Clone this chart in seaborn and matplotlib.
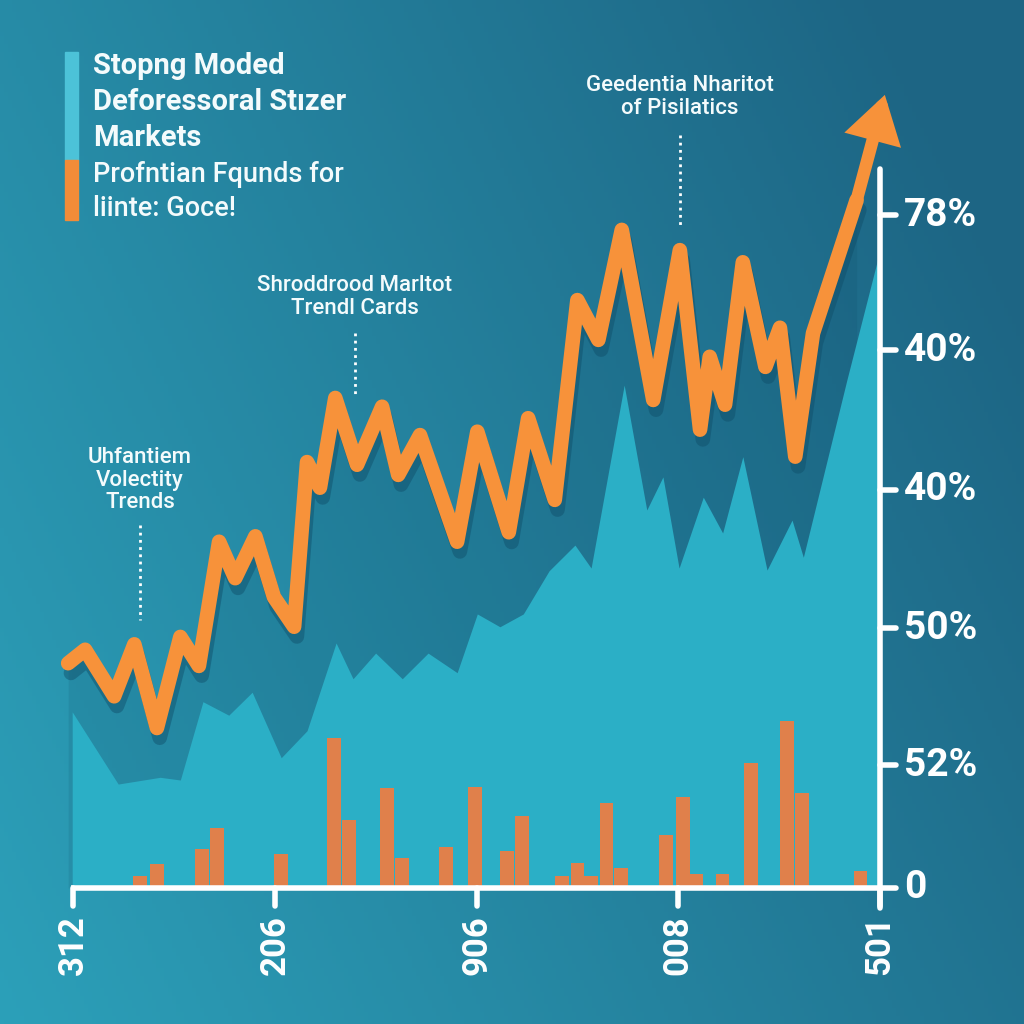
import numpy as np
import matplotlib
matplotlib.use("Agg")
import matplotlib.pyplot as plt
import matplotlib.patheffects as pe
import seaborn as sns

# orange trend line (last point = arrow tip)
line_x = [-0.6, 1.5, 5.1, 7.6, 10.4, 13.3, 15.6, 18.1, 20.1, 22.6, 24.9, 27.4, 29.0, 30.6,
          32.5, 35.2, 38.3, 40.3, 43.0, 47.6, 50.1, 54.0, 56.4, 59.7, 62.5, 65.1, 68.0, 71.9,
          75.2, 77.7, 78.9, 80.8, 83.0, 85.8, 87.6, 89.5, 91.7, 97.1, 100.6]
line_y = [33.3, 35.3, 28.4, 36.1, 23.7, 37.2, 32.9, 51.3, 45.9, 52.1, 43.1, 38.7, 63.1, 59.3,
          72.6, 62.7, 71.3, 61.2, 67.1, 51.3, 67.6, 52.7, 69.6, 57.5, 87.1, 81.2, 97.5, 72.3,
          94.5, 67.9, 78.7, 71.6, 92.7, 77.2, 83.0, 63.9, 82.2, 101.9, 117.5]

# light teal area
area_x = [-0.1, 5.6, 10.8, 13.3, 16.1, 19.3, 22.2, 25.8, 29.0, 32.6, 34.7, 37.5, 40.8, 44.0,
          47.6, 50.1, 52.9, 55.8, 59.0, 62.2, 64.2, 68.3, 71.1, 73.1, 75.1, 78.1, 80.5, 83.0,
          86.0, 89.1, 90.5, 95.9, 100.0]
area_y = [26.1, 15.4, 16.4, 16.0, 27.6, 25.6, 29.0, 19.3, 23.3, 36.3, 31.0, 34.8, 31.0, 34.8,
          31.9, 40.6, 38.7, 40.6, 47.0, 50.8, 47.4, 74.5, 56.0, 60.9, 47.4, 57.9, 52.6, 63.9,
          47.1, 54.5, 49.0, 75.3, 94.5]

# bars along the bottom
bar_x = [8.3, 10.4, 16.0, 17.8, 25.8, 32.3, 34.2, 38.9, 40.8, 46.2, 49.8, 53.8, 55.6,
         60.6, 62.5, 64.2, 66.1, 67.9, 73.5, 75.6, 77.2, 80.5, 84.0, 88.5, 90.3, 97.6]
bar_h = [1.8, 3.6, 5.8, 8.9, 5.0, 22.2, 10.1, 14.8, 4.4, 6.1, 15.0, 5.5, 10.7,
         1.8, 3.7, 1.8, 12.6, 3.0, 7.9, 13.5, 2.1, 2.1, 18.5, 24.7, 14.1, 2.5]

# axes ticks and labels
xtick_pos = [0, 25, 50, 75, 100]
xtick_labels = ["312", "206", "906", "008", "501"]
ytick_pos = [0, 18.2, 38.5, 59.0, 79.7, 99.7]
ytick_labels = ["0", "52%", "50%", "40%", "40%", "78%"]

title_lines = ["Stopng Moded", "Deforessoral Stızer", "Markets"]
sub_lines = ["Profntian Fqunds for", "liinte: Goce!"]

# annotation text, x, text y, dotted line top, dotted line bottom
notes = [
    ("Geedentia Nharitot\nof Pisilatics", 75.2, 117.2, 111.6, 97.8),
    ("Shroddrood Marltot\nTrendl Cards", 34.9, 87.6, 82.2, 73.0),
    ("Uhfantiem\nVolectity\nTrends", 8.3, 60.4, 53.8, 39.7),
]

ORANGE = "#f7923a"
BAR = "#e0804b"
LIGHT = "#2bafc6"

sns.set_theme(style="white")
plt.rcParams["font.family"] = ["Roboto", "DejaVu Sans"]

fig = plt.figure(figsize=(10.24, 10.24), dpi=100)
ax = fig.add_axes([0, 0, 1, 1])
xlim = (-73 / 8.07, (1024 - 73) / 8.07)
ylim = (-(1024 - 888) / 6.75, 888 / 6.75)
ax.set_xlim(*xlim)
ax.set_ylim(*ylim)
ax.axis("off")

# background gradient
u = np.linspace(0, 1, 256)
uu, vv = np.meshgrid(u, u)
t = np.clip(0.75 * uu + 0.35 * vv, 0, 1)[..., None]
c0 = np.array(matplotlib.colors.to_rgb("#2ca0b9"))
c1 = np.array(matplotlib.colors.to_rgb("#1d6584"))
grad = c0 * (1 - t) + c1 * t
ax.imshow(grad, extent=(*xlim, *ylim), aspect="auto", zorder=0, origin="lower")

# darker band under the orange line
ax.fill_between(line_x[:-1], line_y[:-1], 0, color="#0c4560", alpha=0.13, lw=0, zorder=1)
# light area
ax.fill_between(area_x, area_y, 0, color=LIGHT, lw=0, zorder=2)

# bars
ax.bar(bar_x, bar_h, width=1.7, color=BAR, zorder=3, lw=0)

# orange line
sns.lineplot(x=line_x[:-1], y=line_y[:-1], sort=False, estimator=None, ax=ax,
             color=ORANGE, lw=10.5, zorder=5,
             solid_joinstyle="round", solid_capstyle="round",
             path_effects=[pe.SimpleLineShadow(offset=(2, -7), shadow_color="#0f4d68", alpha=0.45),
                           pe.Normal()])
ax.annotate("", xy=(line_x[-1], line_y[-1]), xytext=(line_x[-2], line_y[-2]),
            arrowprops=dict(arrowstyle="-|>,head_length=0.8,head_width=0.5",
                            lw=9, color=ORANGE, mutation_scale=26,
                            shrinkA=0, shrinkB=0, joinstyle="miter"),
            zorder=6)

# white axes
ax.plot([xtick_pos[0] - 0.2, xtick_pos[-1] + 0.3], [0, 0], color="white", lw=4,
        solid_capstyle="butt", zorder=7)
ax.plot([100, 100], [-3.0, 106.5], color="white", lw=4, solid_capstyle="round", zorder=7)
for xp, lab in zip(xtick_pos, xtick_labels):
    ax.plot([xp, xp], [0, -2.7], color="white", lw=4, zorder=7)
    ax.text(xp, -4.0, lab, rotation=90, ha="center", va="top", color="white",
            fontsize=25, fontweight="bold", zorder=8)
for yp, lab in zip(ytick_pos, ytick_labels):
    ax.plot([100, 102.0], [yp, yp], color="white", lw=4, zorder=7)
    ax.text(103.0, yp, lab, ha="left", va="center", color="white",
            fontsize=28, fontweight="bold", zorder=8)

# title block
fig.patches.append(plt.Rectangle((65 / 1024, 1 - 160 / 1024), 13 / 1024, 108 / 1024,
                                 transform=fig.transFigure, color="#4cc2d8", zorder=9))
fig.patches.append(plt.Rectangle((65 / 1024, 1 - 220 / 1024), 13 / 1024, 60 / 1024,
                                 transform=fig.transFigure, color="#f28c38", zorder=9))
for i, line in enumerate(title_lines):
    fig.text(93 / 1024, 1 - (66 + 36 * i) / 1024, line, ha="left", va="center",
             color="#f4fbfc", fontsize=21, fontweight="bold")
for i, line in enumerate(sub_lines):
    fig.text(93 / 1024, 1 - (174 + 34 * i) / 1024, line, ha="left", va="center",
             color="#f4fbfc", fontsize=19.5, fontweight="medium")

# annotations with dotted leaders
for text, xp, ty, l_top, l_bot in notes:
    ax.text(xp, ty, text, ha="center", va="center", color="#f4fbfc", fontsize=16,
            fontweight="medium", linespacing=1.1, zorder=8)
    ax.plot([xp, xp], [l_top, l_bot], color="white", lw=2, ls=(0, (1, 1.6)), zorder=8)

fig.savefig("out.png", dpi=100)
